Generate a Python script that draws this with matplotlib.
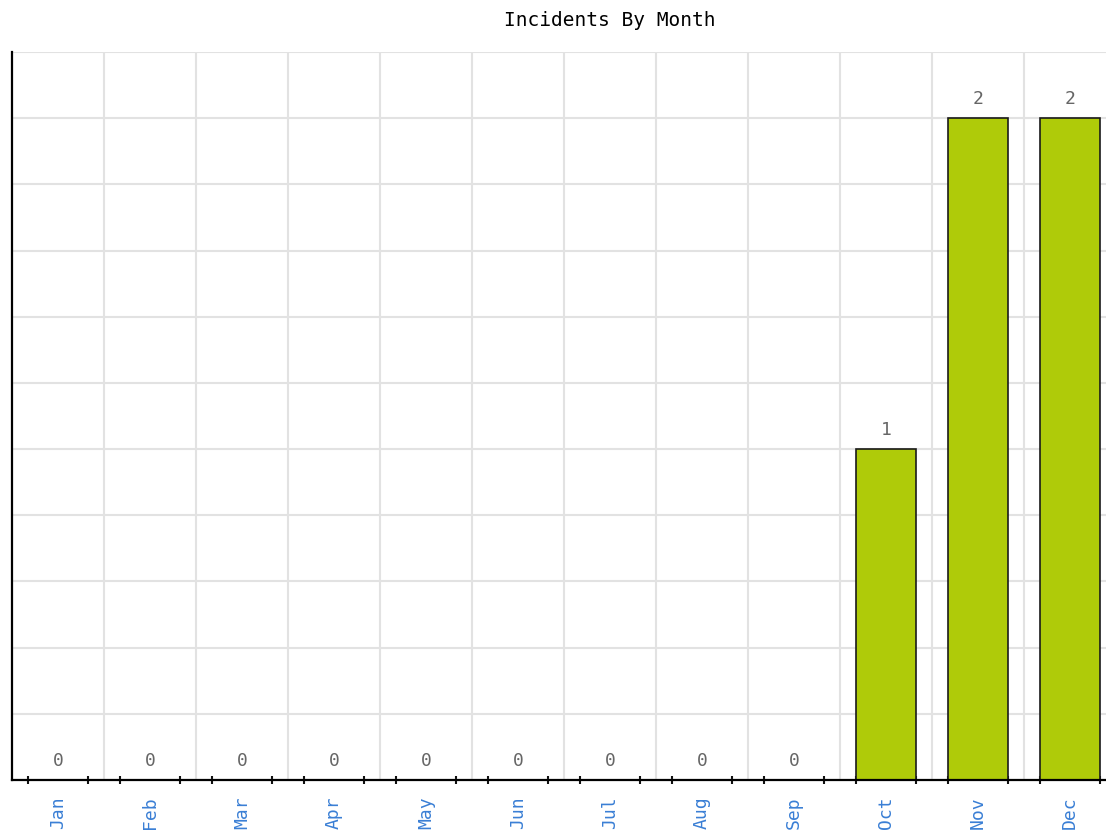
import matplotlib
matplotlib.use("Agg")
import matplotlib.pyplot as plt
import numpy as np

months = ["Jan", "Feb", "Mar", "Apr", "May", "Jun", "Jul", "Aug", "Sep", "Oct", "Nov", "Dec"]
incidents = [0, 0, 0, 0, 0, 0, 0, 0, 0, 1, 2, 2]
title = "Incidents By Month"

W, H = 1106, 835
fig = plt.figure(figsize=(W / 100, H / 100), dpi=100)
ax = fig.add_axes([12 / W, (H - 780) / H, 1104 / W, 728 / H])

x = np.arange(len(months))
bw = 60 / 92
ax.bar(x, incidents, width=bw, color="#AFCB09", edgecolor="#1a1a1a", linewidth=1.2, zorder=3)

ax.set_xlim(-0.5, len(months) - 0.5)
ax.set_ylim(0, 2.2)

# horizontal grid
ax.set_yticks(np.arange(0, 2.21, 0.2))
ax.yaxis.grid(True, color="#e2e2e2", linewidth=1.5, zorder=0)
ax.tick_params(axis="y", length=0, labelleft=False)
# vertical grid at category boundaries
ax.vlines(x[1:] - 0.5, 0, 2.2, colors="#e2e2e2", linewidth=1.5, zorder=0)

# x labels
ax.set_xticks(x)
ax.set_xticklabels(months, rotation=90, fontfamily="DejaVu Sans Mono", fontsize=13, color="#3A7FD5")
ax.tick_params(axis="x", which="major", length=0, pad=12)
edges = np.concatenate([x - bw / 2, x + bw / 2])
ax.set_xticks(edges, minor=True)
ax.tick_params(axis="x", which="minor", direction="inout", length=6, width=1.5, color="#111111")

for s in ["top", "right"]:
    ax.spines[s].set_visible(False)
for s in ["left", "bottom"]:
    ax.spines[s].set_color("#000000")
    ax.spines[s].set_linewidth(1.6)
    ax.spines[s].set_zorder(4)

for xi, v in zip(x, incidents):
    ax.annotate(str(v), (xi, v), xytext=(0, 7), textcoords="offset points",
                ha="center", va="bottom", fontfamily="DejaVu Sans Mono", fontsize=13, color="#666666")

fig.text(610 / W, 1 - 20 / H, title, ha="center", va="center",
         fontfamily="DejaVu Sans Mono", fontsize=14, color="#000000")

fig.savefig("out.png", dpi=100)
